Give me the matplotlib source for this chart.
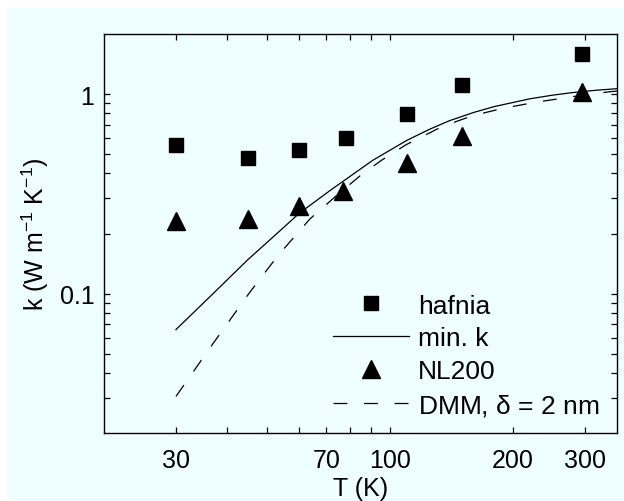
import matplotlib
matplotlib.use("Agg")
import matplotlib.pyplot as plt
from matplotlib.patches import Rectangle
from matplotlib.ticker import FixedLocator, NullFormatter, FixedFormatter

plt.rcParams['font.family'] = ['Liberation Sans', 'DejaVu Sans']
plt.rcParams['mathtext.fontset'] = 'custom'
plt.rcParams['mathtext.rm'] = 'Liberation Sans'
plt.rcParams['mathtext.it'] = 'Liberation Sans'
plt.rcParams['lines.scale_dashes'] = False

# Measured thermal conductivity
hafnia_T = [30, 45, 60, 78, 110, 150, 295]
hafnia_k = [0.557, 0.478, 0.522, 0.604, 0.797, 1.104, 1.58]

nl200_T = [30, 45, 60, 77, 110, 150, 295]
nl200_k = [0.230, 0.2365, 0.2735, 0.327, 0.45, 0.615, 1.02]

# Model curves
mink_T = [30, 37, 45, 53, 60, 72, 91, 110, 125, 140, 160, 180, 220, 250,
          280, 320, 360]
mink_k = [0.066, 0.100, 0.148, 0.200, 0.252, 0.332, 0.466, 0.585, 0.665,
          0.735, 0.807, 0.865, 0.946, 0.987, 1.017, 1.045, 1.064]

dmm_T = [30, 37, 45.4, 53.3, 63.8, 74.8, 85, 95.4, 110, 135, 160, 190, 228,
         280, 345, 360]
dmm_k = [0.0305, 0.0563, 0.101, 0.155, 0.2365, 0.315, 0.392, 0.465, 0.559,
         0.69, 0.78, 0.85, 0.91, 0.97, 1.027, 1.035]

x_ticks = [30, 70, 100, 200, 300]
x_ticklabels = ['30', '70', '100', '200', '300']
y_ticks = [0.1, 1]
y_ticklabels = ['0.1', '1']

bg = '#EFFEFF'
fs = 18
legend_fs = 19

fig = plt.figure(figsize=(6.24, 5.02), dpi=100, facecolor='white')
fig.patches.append(Rectangle((7 / 624, 0), 1 - 7 / 624, 1 - 9 / 502,
                             transform=fig.transFigure, facecolor=bg,
                             edgecolor='none', zorder=-10))
ax = fig.add_axes([104 / 624, 1 - 434 / 502, (617 - 104) / 624, (434 - 35) / 502])
ax.set_facecolor(bg)

ax.plot(hafnia_T, hafnia_k, ls='none', marker='s', ms=10, color='black',
        label='hafnia')
ax.plot(mink_T, mink_k, ls='-', lw=0.9, color='black', label='min. k')
ax.plot(nl200_T, nl200_k, ls='none', marker='^', ms=12.5, color='black',
        label='NL200')
ax.plot(dmm_T, dmm_k, ls=(0, (10, 12)), lw=0.9, color='black',
        label='DMM, $\\delta$ = 2 nm')

ax.set_xscale('log')
ax.set_yscale('log')
ax.set_xlim(20, 360)
ax.set_ylim(0.02, 2)

ax.xaxis.set_major_locator(FixedLocator(x_ticks))
ax.xaxis.set_major_formatter(FixedFormatter(x_ticklabels))
ax.xaxis.set_minor_locator(FixedLocator([40, 50, 60, 80, 90]))
ax.xaxis.set_minor_formatter(NullFormatter())

ax.yaxis.set_major_locator(FixedLocator(y_ticks))
ax.yaxis.set_major_formatter(FixedFormatter(y_ticklabels))
ax.yaxis.set_minor_locator(FixedLocator([0.03, 0.04, 0.05, 0.06, 0.07, 0.08, 0.09,
                                         0.2, 0.3, 0.4, 0.5, 0.6, 0.7, 0.8, 0.9]))
ax.yaxis.set_minor_formatter(NullFormatter())

ax.tick_params(which='both', direction='in', top=True, right=True,
               length=4, width=0.9, labelsize=fs)
ax.tick_params(axis='x', which='both', pad=11)
ax.tick_params(axis='y', which='both', pad=7)
for s in ax.spines.values():
    s.set_linewidth(1.0)

ax.set_xlabel('T (K)', fontsize=fs, labelpad=3)
ax.set_ylabel('k (W m$^{-1}$ K$^{-1}$)', fontsize=fs, labelpad=6)

ax.legend(loc='lower left', frameon=False, fontsize=legend_fs,
          handlelength=2.9, handletextpad=0.35, labelspacing=0.33,
          borderaxespad=0.0, bbox_to_anchor=(0.425, 0.012))

fig.savefig('out.png', dpi=100, facecolor=fig.get_facecolor())
